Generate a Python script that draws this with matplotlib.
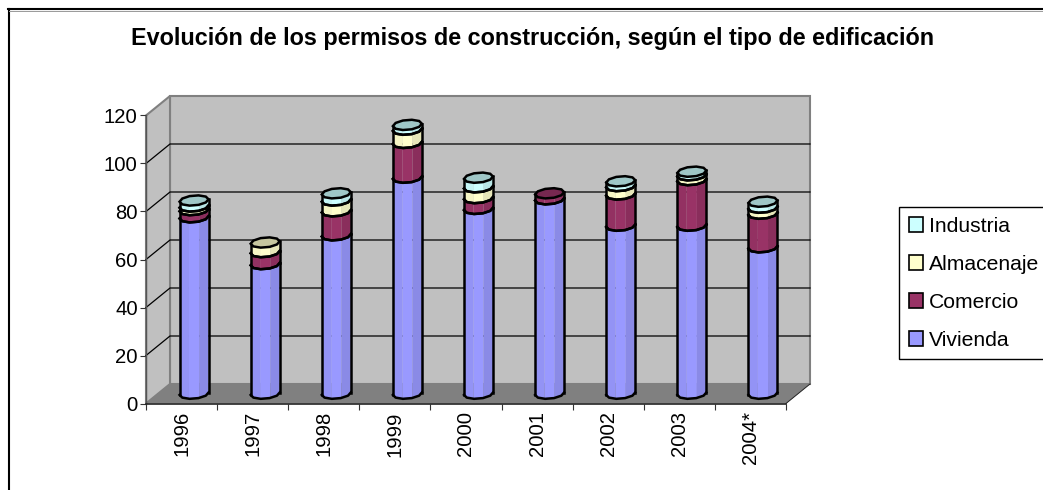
import numpy as np
import matplotlib
matplotlib.use("Agg")
import matplotlib.pyplot as plt
from matplotlib.lines import Line2D
from matplotlib.patches import Patch, Polygon
from matplotlib.colors import to_rgb

plt.rcParams['font.family'] = ['Liberation Sans', 'DejaVu Sans']

# ---- data ----
years = ['1996', '1997', '1998', '1999', '2000', '2001', '2002', '2003', '2004*']
vivienda = [73.5, 54, 66, 90, 77, 81, 70, 70, 61]
comercio = [3, 5, 10, 14.5, 4.5, 2.5, 13, 19, 14]
almacenaje = [1.5, 4, 4.5, 5.5, 4.5, 0, 3.5, 2, 2.5]
industria = [2.5, 0, 3, 2, 4, 0, 2, 1.5, 2.5]
series_names = ['Vivienda', 'Comercio', 'Almacenaje', 'Industria']
series_colors = ['#9999FF', '#993366', '#FFFFCC', '#CCFFFF']
yticks = [0, 20, 40, 60, 80, 100, 120]
title = 'Evolución de los permisos de construcción, según el tipo de edificación'

W, H = 1043, 490
fig = plt.figure(figsize=(W / 100, H / 100), dpi=100, facecolor='white')
ax = fig.add_axes([146 / W, (H - 403.5) / H, 640 / W, 288 / H])
n = len(years)
ax.set_xlim(0, n)
ax.set_ylim(0, 120)
ax.patch.set_visible(False)

px = n / 640   # data units per pixel, x
py = 120 / 288  # data units per pixel, y
DX, DY = 24 * px, 19.5 * py  # full depth of the box
MX, MY = 12.5 * px, 9.8 * py  # depth of the bar plane

# walls and floor
ax.add_patch(Polygon([(DX, DY), (n + DX, DY), (n + DX, 120 + DY), (DX, 120 + DY)],
                     fc='#C0C0C0', ec='#808080', lw=1.5, clip_on=False, zorder=1))
ax.add_patch(Polygon([(0, 0), (DX, DY), (DX, 120 + DY), (0, 120)],
                     fc='#C0C0C0', ec='#808080', lw=1.5, clip_on=False, zorder=1))
ax.add_patch(Polygon([(0, 0), (n, 0), (n + DX, DY), (DX, DY)],
                     fc='#808080', ec='none', clip_on=False, zorder=1.2))
ax.plot([n, n + DX], [0, DY], color='#222222', lw=0.7, clip_on=False, zorder=1.3)

for v in yticks[1:-1]:
    ax.plot([0, DX, n + DX], [v, v + DY, v + DY], color='black', lw=0.9,
            clip_on=False, zorder=1.5)

# cylinder outline (low-resolution, as in the reference)
A, B, S = 14.5 * px, 5.0 * py, 1.2 * py
LW = 1.8
t = np.linspace(np.pi, 2 * np.pi, 6)
front_x = A * np.cos(t)
front_y = B * np.sin(t) + S * np.cos(t)
back_x = front_x[::-1]
back_y = -B * np.sin(t[::-1]) + S * np.cos(t[::-1])
strips = [(-1.0, -0.35, 0.96), (-0.35, 0.35, 1.0), (0.35, 1.0, 0.9)]


def shade(col, f):
    return tuple(c * f for c in to_rgb(col))


def arc(xs):
    return np.interp(xs, front_x, front_y)


for i in range(n):
    cx = i + 0.5 + MX
    base = MY
    stack = [vivienda[i], comercio[i], almacenaje[i], industria[i]]
    last = max(k for k, v in enumerate(stack) if v > 0)
    for k, v in enumerate(stack):
        if v <= 0:
            continue
        y0, y1 = base, base + v
        z = 3 + k * 0.1
        for a, b, f in strips:
            xs = np.linspace(a * A, b * A, 12)
            ys = arc(xs)
            pts = np.r_[np.c_[cx + xs, y0 + ys], np.c_[cx + xs[::-1], y1 + ys[::-1]]]
            ax.add_patch(Polygon(pts, fc=shade(series_colors[k], f), ec='none',
                                 clip_on=False, zorder=z))
        ax.plot(cx + front_x, y0 + front_y, color='black', lw=LW, clip_on=False,
                zorder=z + 0.01, solid_joinstyle='round')
        ax.plot([cx - A, cx - A], [y0 + front_y[0], y1 + front_y[0]], color='black', lw=LW,
                clip_on=False, zorder=z + 0.01)
        ax.plot([cx + A, cx + A], [y0 + front_y[-1], y1 + front_y[-1]], color='black', lw=LW,
                clip_on=False, zorder=z + 0.01)
        if k == last:
            cap = np.r_[np.c_[cx + front_x, y1 + front_y], np.c_[cx + back_x, y1 + back_y]]
            ax.add_patch(Polygon(cap, closed=True, fc=shade(series_colors[k], 0.78), ec='black',
                                 lw=LW, clip_on=False, zorder=z + 0.02))
        else:
            ax.plot(cx + front_x, y1 + front_y, color='black', lw=LW, clip_on=False,
                    zorder=z + 0.5)
        base = y1

# axes
for s in ('top', 'right'):
    ax.spines[s].set_visible(False)
ax.spines['left'].set_color('#555555')
ax.spines['bottom'].set_color('#222222')
ax.spines['left'].set_linewidth(1.0)
ax.spines['bottom'].set_linewidth(1.2)
ax.set_yticks(yticks)
ax.set_xticks(range(n + 1))
ax.set_xticks(np.arange(n) + 0.5, labels=years, minor=True, rotation=90)
ax.set_xticklabels([])
ax.tick_params(axis='x', which='major', length=4, width=0.8, color='#333333')
ax.tick_params(axis='x', which='minor', length=0, pad=5.5, labelsize=14.6, labelcolor='black')
ax.tick_params(axis='y', length=4, width=0.8, color='#333333', pad=2, labelsize=14.6)
for lab in ax.get_xticklabels(minor=True):
    lab.set_verticalalignment('top')
    lab.set_horizontalalignment('center')

fig.text(533 / W, 1 - 38 / H, title, ha='center', va='center', fontsize=16.8,
         fontweight='bold', color='black')

# outer frame running off the right and bottom edges
fig.add_artist(Line2D([8.5 / W, 8.5 / W], [0, 1 - 9 / H], color='black', lw=1.5))
fig.add_artist(Line2D([8 / W, 1], [1 - 9 / H, 1 - 9 / H], color='black', lw=1.5))
fig.add_artist(Line2D([9 / W, 1], [1 - 10.6 / H, 1 - 10.6 / H], color='#999999', lw=0.7))

# legend
handles = [Patch(fc=series_colors[k], ec='black', lw=1.2, label=series_names[k])
           for k in (3, 2, 1, 0)]
fig.legend(handles=handles, loc='upper left', bbox_to_anchor=(899 / W, 1 - 207 / H),
           bbox_transform=fig.transFigure, borderaxespad=0, fontsize=15.2, fancybox=False,
           framealpha=1, edgecolor='black', handlelength=0.68, handleheight=0.72,
           handletextpad=0.28, borderpad=0.46, labelspacing=0.9)

fig.savefig('out.png', dpi=100, facecolor='white')
